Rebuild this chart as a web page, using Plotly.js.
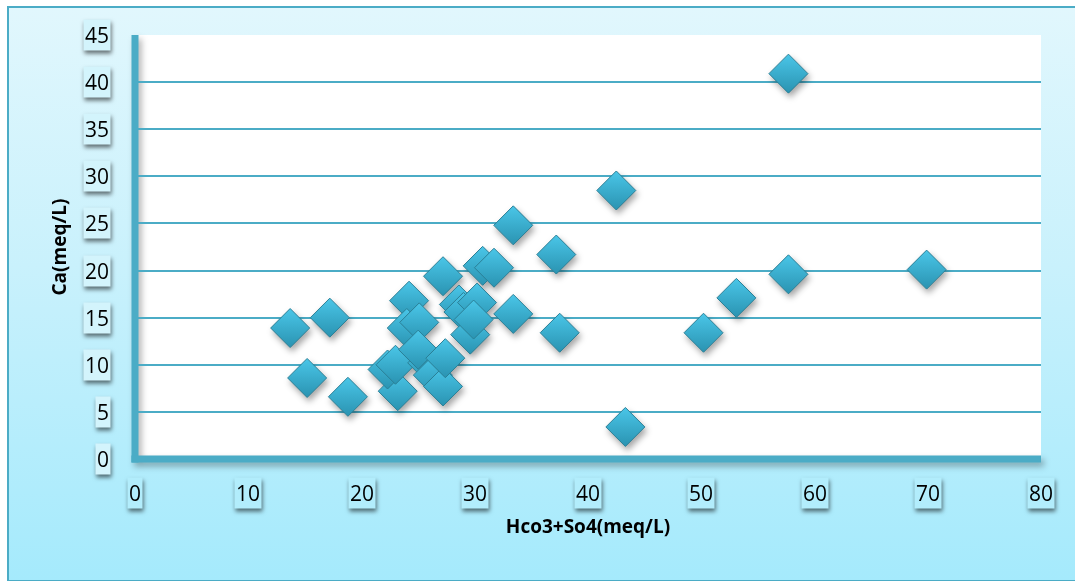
<!DOCTYPE html>
<html>
<head>
<meta charset="utf-8">
<script src="https://cdn.plot.ly/plotly-3.0.1.min.js"></script>
<style>
  html, body { margin:0; padding:0; width:1075px; height:581px; overflow:hidden; background:#ffffff; }
  #frame { position:absolute; left:7px; top:6px; width:1080px; height:572px;
    border-left:2px solid #4bacc6; border-top:2px solid #4bacc6; border-bottom:2px solid #4bacc6;
    background:linear-gradient(to bottom, #e1f7fd 0%, #c9f1fc 45%, #a5eafc 100%); }
  #chart { position:absolute; left:0; top:0; width:1075px; height:581px; }
  #chart .scatterlayer { filter: drop-shadow(2px 4px 3px rgba(0,0,0,0.35)); }
  #chart g.annotation { filter: drop-shadow(1px 3px 2px rgba(0,0,0,0.55)); }
  #chart .layer-below .shapelayer { filter: drop-shadow(3px 4px 3px rgba(0,0,0,0.3)); }
</style>
</head>
<body>
<div id="frame"></div>
<div id="chart"></div>
<script>
// Hco3+So4 (meq/L)
var hco3So4 = [13.7, 15.2, 17.2, 18.8, 23.2, 22.3, 23.0, 24.2, 24.0, 25.1, 25.8, 26.3, 25.0,
               27.2, 27.2, 27.4, 28.6, 29.0, 29.6, 30.2, 29.9, 30.7, 31.7, 33.4, 33.4, 37.2,
               37.5, 42.5, 43.3, 50.2, 53.1, 57.7, 57.7, 69.9];
// Ca (meq/L)
var ca = [13.9, 8.6, 15.0, 6.6, 7.2, 9.5, 10.0, 16.8, 13.9, 14.5, 10.2, 8.9, 11.6,
          19.4, 7.7, 10.7, 16.4, 15.6, 13.2, 16.6, 14.8, 20.5, 20.3, 24.8, 15.4, 21.7,
          13.4, 28.5, 3.4, 13.4, 17.1, 19.6, 40.9, 20.1];
var xTickVals = [0, 10, 20, 30, 40, 50, 60, 70, 80];
var yTickVals = [0, 5, 10, 15, 20, 25, 30, 35, 40, 45];

var trace = {
  x: hco3So4, y: ca, type: 'scatter', mode: 'markers',
  marker: { symbol: 'diamond', size: 30, color: '#4ac6e8',
            gradient: { type: 'vertical', color: '#2a93b1' },
            line: { color: '#2a7f96', width: 1 } },
  hoverinfo: 'x+y'
};

var labelFont = { size: 21, family: 'Open Sans, sans-serif', color: '#000000' };
var boxBg = '#d3f4fc';
var annotations = [];
xTickVals.forEach(function (v) {
  annotations.push({ text: String(v), x: v, xref: 'x', y: 0, yref: 'paper',
    xanchor: 'center', yanchor: 'top', yshift: -18, showarrow: false,
    font: labelFont, bgcolor: '#b2edfc', borderpad: 1 });
});
yTickVals.forEach(function (v) {
  annotations.push({ text: String(v), x: 0, xref: 'paper', y: v, yref: 'y',
    xanchor: 'right', yanchor: 'middle', xshift: -24, showarrow: false,
    font: labelFont, bgcolor: boxBg, borderpad: 1 });
});

var layout = {
  width: 1075, height: 581,
  margin: { l: 135, r: 34, t: 35, b: 122 },
  paper_bgcolor: 'rgba(0,0,0,0)',
  plot_bgcolor: '#ffffff',
  showlegend: false,
  font: { family: 'Open Sans, sans-serif', color: '#000000' },
  xaxis: {
    range: [0, 80], tickvals: xTickVals, ticks: '', showgrid: false, zeroline: false,
    showline: false, showticklabels: false,
    title: { text: 'Hco3+So4(meq/L)', font: { size: 19, family: 'Open Sans, sans-serif', weight: 'bold' }, standoff: 60 }
  },
  yaxis: {
    range: [0, 45], tickvals: yTickVals, ticks: '', showgrid: true, gridcolor: '#4bacc6', gridwidth: 2,
    zeroline: false, showline: false, showticklabels: false,
    title: { text: 'Ca(meq/L)', font: { size: 19, family: 'Open Sans, sans-serif', weight: 'bold' }, standoff: 62 }
  },
  shapes: [
    { type: 'line', xref: 'paper', yref: 'paper', x0: 0, x1: 0, y0: -0.008, y1: 1, layer: 'below',
      line: { color: '#4bacc6', width: 7 } },
    { type: 'line', xref: 'paper', yref: 'paper', x0: -0.004, x1: 1, y0: 0, y1: 0, layer: 'below',
      line: { color: '#4bacc6', width: 7 } }
  ],
  annotations: annotations
};

Plotly.newPlot('chart', [trace], layout, { displayModeBar: false, staticPlot: true });
</script>
</body>
</html>
